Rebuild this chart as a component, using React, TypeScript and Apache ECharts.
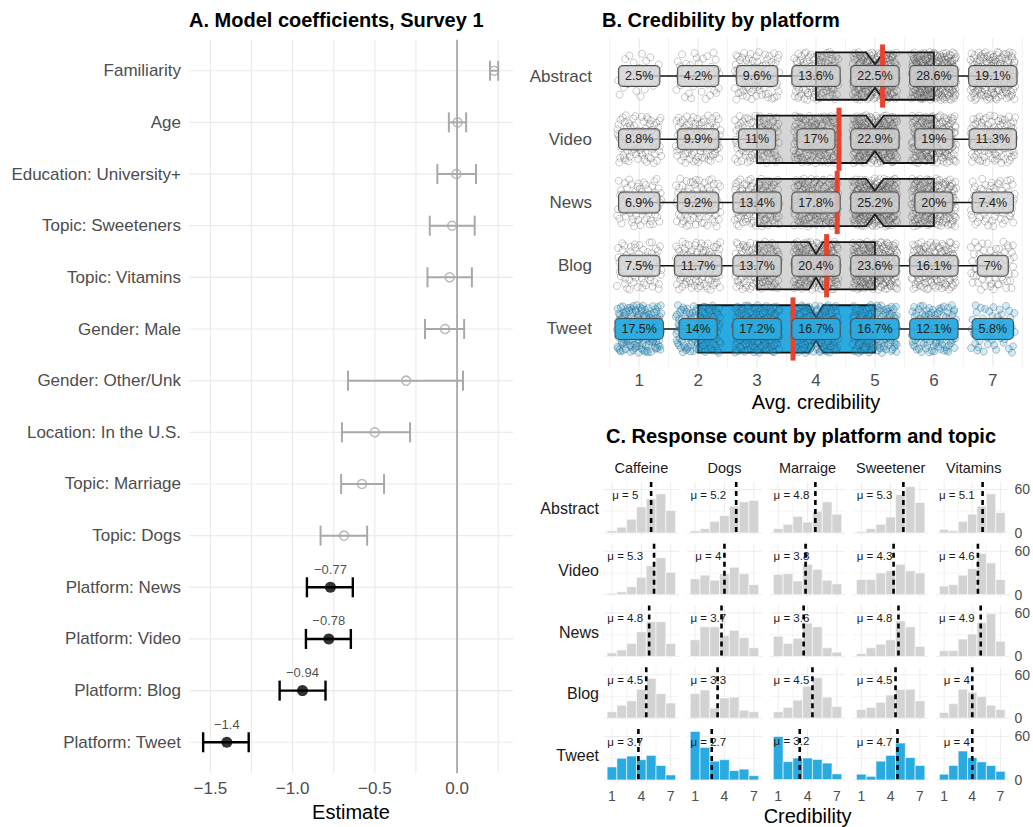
import React, { useEffect, useRef } from "react";
import * as echarts from "echarts";

const FONT = "'Liberation Sans', Arial, Helvetica, sans-serif";

/* ---------------- Panel A : model coefficients ---------------- */
const coefTerms = [
  "Familiarity",
  "Age",
  "Education: University+",
  "Topic: Sweeteners",
  "Topic: Vitamins",
  "Gender: Male",
  "Gender: Other/Unk",
  "Location: In the U.S.",
  "Topic: Marriage",
  "Topic: Dogs",
  "Platform: News",
  "Platform: Video",
  "Platform: Blog",
  "Platform: Tweet",
];
const coefEst = [0.225, 0.003, -0.004, -0.03, -0.045, -0.073, -0.31, -0.5, -0.578, -0.687, -0.77, -0.78, -0.94, -1.4];
const coefLo = [0.2, -0.05, -0.12, -0.166, -0.18, -0.195, -0.663, -0.7, -0.705, -0.83, -0.913, -0.919, -1.079, -1.544];
const coefHi = [0.25, 0.055, 0.115, 0.107, 0.09, 0.043, 0.036, -0.286, -0.444, -0.547, -0.634, -0.646, -0.8, -1.267];
const coefHighlight = [0, 0, 0, 0, 0, 0, 0, 0, 0, 0, 1, 1, 1, 1];
const coefTickLabels = [-1.5, -1, -0.5, 0];
const coefGridLines = [-1.5, -1.25, -1, -0.75, -0.5, -0.25, 0, 0.25];

/* ---------------- Panel B : credibility by platform ---------------- */
const platforms = ["Abstract", "Video", "News", "Blog", "Tweet"];
const credLevels = [1, 2, 3, 4, 5, 6, 7];
const pctAbstract = [2.5, 4.2, 9.6, 13.6, 22.5, 28.6, 19.1];
const pctVideo = [8.8, 9.9, 11, 17, 22.9, 19, 11.3];
const pctNews = [6.9, 9.2, 13.4, 17.8, 25.2, 20, 7.4];
const pctBlog = [7.5, 11.7, 13.7, 20.4, 23.6, 16.1, 7];
const pctTweet = [17.5, 14, 17.2, 16.7, 16.7, 12.1, 5.8];
const boxQ1 = [4, 3, 3, 3, 2];
const boxMedian = [5, 5, 5, 4, 4];
const boxQ3 = [6, 6, 6, 5, 5];
const notchHalfWidth = [0.15, 0.15, 0.15, 0.12, 0.12];
const whiskerLo = [1, 1, 1, 1, 1];
const whiskerHi = [7, 7, 7, 7, 7];
const platformMean = [5.13, 4.39, 4.36, 4.18, 3.61];
const credTickLabels = [1, 2, 3, 4, 5, 6, 7];
const credGridLines = [0.5, 1, 1.5, 2, 2.5, 3, 3.5, 4, 4.5, 5, 5.5, 6, 6.5, 7, 7.5];

/* ---------------- Panel C : response counts ---------------- */
const topics = ["Caffeine", "Dogs", "Marraige", "Sweetener", "Vitamins"];
const countsAbstract = [
  [3, 8, 19, 36, 47, 54, 31],
  [3, 6, 16, 24, 37, 43, 45],
  [6, 12, 23, 15, 30, 43, 26],
  [2, 6, 12, 22, 53, 64, 42],
  [5, 3, 16, 26, 37, 54, 28],
];
const countsVideo = [
  [2, 4, 11, 24, 40, 51, 31],
  [22, 27, 20, 29, 38, 29, 14],
  [28, 29, 19, 42, 35, 20, 15],
  [21, 21, 30, 33, 42, 33, 30],
  [12, 14, 27, 36, 57, 44, 21],
];
const countsNews = [
  [5, 9, 18, 34, 48, 48, 18],
  [23, 41, 41, 29, 36, 26, 12],
  [28, 18, 25, 46, 41, 12, 6],
  [4, 12, 17, 23, 49, 41, 14],
  [8, 8, 24, 31, 47, 59, 21],
];
const countsBlog = [
  [9, 18, 24, 40, 55, 34, 21],
  [34, 39, 14, 28, 29, 11, 9],
  [9, 15, 25, 44, 56, 29, 16],
  [12, 15, 22, 32, 40, 40, 24],
  [8, 20, 40, 36, 30, 18, 12],
];
const countsTweet = [
  [18, 30, 33, 28, 34, 20, 7],
  [67, 45, 26, 28, 13, 15, 6],
  [60, 25, 30, 30, 28, 23, 8],
  [8, 5, 26, 34, 51, 31, 20],
  [8, 20, 40, 31, 25, 20, 12],
];
const meanAbstract = [5, 5.2, 4.8, 5.3, 5.1];
const meanVideo = [5.3, 4, 3.8, 4.3, 4.6];
const meanNews = [4.8, 3.7, 3.6, 4.8, 4.9];
const meanBlog = [4.5, 3.3, 4.5, 4.5, 4];
const meanTweet = [3.7, 2.7, 3.2, 4.7, 4];
const countTickLabels = [0, 60];
const credTicksC = [1, 4, 7];
const countGridLines = [0, 30, 60];
const credGridLinesC = [1, 2.5, 4, 5.5, 7];

/* ---------------- helpers ---------------- */
const pctByPlatform = [pctAbstract, pctVideo, pctNews, pctBlog, pctTweet];
const countsByPlatform = [countsAbstract, countsVideo, countsNews, countsBlog, countsTweet];
const meansByPlatform = [meanAbstract, meanVideo, meanNews, meanBlog, meanTweet];

const BLUE = "#29abe2";
const GREY_FILL = "#d6d6d6";
const BAR_GREY = "#d3d3d3";
const GRID_COL = "#ebebeb";
const RED = "#e8432e";

// deterministic low-discrepancy jitter (like geom_jitter, without randomness)
function halton(i: number, b: number) {
  let f = 1,
    r = 0;
  while (i > 0) {
    f /= b;
    r += f * (i % b);
    i = Math.floor(i / b);
  }
  return r;
}

function txtStyle(text: string, size: number, color: string, align: string, valign: string, extra: any = {}) {
  return {
    text,
    fill: color,
    font: `${size}px ${FONT}`,
    align,
    textAlign: align,
    verticalAlign: valign,
    textVerticalAlign: valign,
    ...extra,
  };
}

function gridLineSeries(xi: number, yi: number, entries: any[], extFrac: number, nBands: number, color: string, z: number) {
  return {
    type: "custom",
    xAxisIndex: xi,
    yAxisIndex: yi,
    z,
    silent: true,
    clip: false,
    encode: { x: 0, y: 1 },
    data: entries,
    renderItem: (params: any, api: any) => {
      const cs = params.coordSys;
      const ext = nBands > 0 ? (extFrac * cs.height) / nBands : extFrac;
      const o = api.value(2);
      const w = api.value(3);
      const p = api.coord([api.value(0), api.value(1)]);
      if (o === 0) {
        return {
          type: "line",
          shape: { x1: p[0], y1: cs.y - ext, x2: p[0], y2: cs.y + cs.height + ext },
          style: { stroke: color, lineWidth: w },
        };
      }
      return {
        type: "line",
        shape: { x1: cs.x, y1: p[1], x2: cs.x + cs.width, y2: p[1] },
        style: { stroke: color, lineWidth: w },
      };
    },
  };
}

function buildOption() {
  const grids: any[] = [];
  const xAxes: any[] = [];
  const yAxes: any[] = [];
  const series: any[] = [];

  /* ===== Panel A ===== */
  grids.push({ left: 189, top: 44.9, width: 324, height: 731.2 });
  xAxes.push({
    gridIndex: 0,
    type: "value",
    min: -1.63,
    max: 0.34,
    axisLine: { show: false },
    axisTick: { show: false },
    splitLine: { show: false },
    axisLabel: {
      customValues: coefTickLabels,
      formatter: (v: number) => (v === 0 ? "0.0" : "\u2212" + Math.abs(v).toFixed(1)),
      fontSize: 17,
      color: "#4d4d4d",
      margin: 12,
      fontFamily: FONT,
    },
    name: "Estimate",
    nameLocation: "middle",
    nameGap: 32,
    nameTextStyle: { fontSize: 20, color: "#000", fontFamily: FONT },
  });
  yAxes.push({
    gridIndex: 0,
    type: "category",
    data: coefTerms,
    inverse: true,
    axisLine: { show: false },
    axisTick: { show: false },
    splitLine: { show: false },
    axisLabel: { interval: 0, fontSize: 17, color: "#4d4d4d", margin: 8, fontFamily: FONT },
  });
  series.push(
    gridLineSeries(
      0,
      0,
      [
        ...coefGridLines.map((v) => [v, coefTerms[0], 0, 1.2]),
        ...coefTerms.map((t) => [coefGridLines[0], t, 1, 1.2]),
      ],
      0.1,
      coefTerms.length,
      GRID_COL,
      0
    )
  );
  series.push(gridLineSeries(0, 0, [[0, coefTerms[0], 0, 1.8]], 0.1, coefTerms.length, "#a9a9a9", 1));
  series.push({
    type: "custom",
    xAxisIndex: 0,
    yAxisIndex: 0,
    z: 3,
    clip: false,
    silent: true,
    encode: { x: [0, 1], y: 2 },
    data: coefTerms.map((t, i) => [coefLo[i], coefHi[i], t, coefHighlight[i]]),
    renderItem: (params: any, api: any) => {
      const yv = api.value(2);
      const a = api.coord([api.value(0), yv]);
      const b = api.coord([api.value(1), yv]);
      const hl = api.value(3) === 1;
      const st = () => ({ stroke: hl ? "#000" : "#a9a9a9", lineWidth: hl ? 2.4 : 2 });
      const cap = 10;
      return {
        type: "group",
        children: [
          { type: "line", shape: { x1: a[0], y1: a[1], x2: b[0], y2: b[1] }, style: st() },
          { type: "line", shape: { x1: a[0], y1: a[1] - cap, x2: a[0], y2: a[1] + cap }, style: st() },
          { type: "line", shape: { x1: b[0], y1: b[1] - cap, x2: b[0], y2: b[1] + cap }, style: st() },
        ],
      };
    },
  });
  const greyIdx = coefTerms.map((_, i) => i).filter((i) => !coefHighlight[i]);
  const blackIdx = coefTerms.map((_, i) => i).filter((i) => coefHighlight[i]);
  series.push({
    type: "scatter",
    xAxisIndex: 0,
    yAxisIndex: 0,
    z: 4,
    silent: true,
    symbol: "circle",
    symbolSize: 9,
    itemStyle: { color: "rgba(255,255,255,0)", borderColor: "#a9a9a9", borderWidth: 1.5 },
    data: greyIdx.map((i) => [coefEst[i], coefTerms[i]]),
  });
  series.push({
    type: "scatter",
    xAxisIndex: 0,
    yAxisIndex: 0,
    z: 4,
    silent: true,
    symbol: "circle",
    symbolSize: 11,
    itemStyle: { color: "#000" },
    label: {
      show: true,
      position: "top",
      distance: 6,
      fontSize: 13,
      color: "#1a1a1a",
      fontFamily: FONT,
      formatter: (p: any) => "\u2212" + String(Number(Math.abs(p.value[0]).toFixed(2))),
    },
    data: blackIdx.map((i) => [coefEst[i], coefTerms[i]]),
  });

  /* ===== Panel B ===== */
  grids.push({ left: 605, top: 44.4, width: 422, height: 316.2 });
  xAxes.push({
    gridIndex: 1,
    type: "value",
    min: 0.42,
    max: 7.58,
    axisLine: { show: false },
    axisTick: { show: false },
    splitLine: { show: false },
    axisLabel: {
      customValues: credTickLabels,
      formatter: (v: number) => String(v),
      fontSize: 17,
      color: "#4d4d4d",
      margin: 11,
      fontFamily: FONT,
    },
    name: "Avg. credibility",
    nameLocation: "middle",
    nameGap: 31,
    nameTextStyle: { fontSize: 20, color: "#000", fontFamily: FONT },
  });
  yAxes.push({
    gridIndex: 1,
    type: "category",
    data: platforms,
    inverse: true,
    axisLine: { show: false },
    axisTick: { show: false },
    splitLine: { show: false },
    axisLabel: { interval: 0, fontSize: 17, color: "#4d4d4d", margin: 13, fontFamily: FONT },
  });
  const nP = platforms.length;
  series.push(
    gridLineSeries(
      1,
      1,
      credGridLines.map((v) => [v, platforms[0], 0, Number.isInteger(v) ? 1.2 : 0.7]),
      0.1,
      nP,
      GRID_COL,
      0
    )
  );
  // whiskers
  series.push({
    type: "custom",
    xAxisIndex: 1,
    yAxisIndex: 1,
    z: 2,
    silent: true,
    clip: false,
    encode: { x: [0, 1], y: 2 },
    data: platforms.map((p, i) => [whiskerLo[i], whiskerHi[i], p]),
    renderItem: (params: any, api: any) => {
      const a = api.coord([api.value(0), api.value(2)]);
      const b = api.coord([api.value(1), api.value(2)]);
      return { type: "line", shape: { x1: a[0], y1: a[1], x2: b[0], y2: b[1] }, style: { stroke: "#111", lineWidth: 1.6 } };
    },
  });
  // notched boxes
  series.push({
    type: "custom",
    xAxisIndex: 1,
    yAxisIndex: 1,
    z: 3,
    silent: true,
    clip: false,
    encode: { x: [0, 1, 2], y: 3 },
    data: platforms.map((p, i) => [boxQ1[i], boxMedian[i], boxQ3[i], p, notchHalfWidth[i], i === 4 ? 1 : 0]),
    renderItem: (params: any, api: any) => {
      const cs = params.coordSys;
      const band = cs.height / nP;
      const yi = api.value(3);
      const md = api.value(1);
      const n = api.value(4);
      const pQ1 = api.coord([api.value(0), yi]);
      const xL = api.coord([md - n, yi])[0];
      const xM = api.coord([md, yi])[0];
      const xR = api.coord([md + n, yi])[0];
      const xQ3 = api.coord([api.value(2), yi])[0];
      const cy = pQ1[1];
      const h = band * 0.75;
      const top = cy - h / 2;
      const bot = cy + h / 2;
      const ins = h * 0.25;
      const pts = [
        [pQ1[0], top],
        [xL, top],
        [xM, top + ins],
        [xR, top],
        [xQ3, top],
        [xQ3, bot],
        [xR, bot],
        [xM, bot - ins],
        [xL, bot],
        [pQ1[0], bot],
      ];
      return {
        type: "polygon",
        shape: { points: pts },
        style: { fill: api.value(5) === 1 ? BLUE : GREY_FILL, stroke: "#111", lineWidth: 1.8, lineJoin: "miter" },
      };
    },
  });
  // jittered responses
  const jitterData: any[] = [];
  let hk = 1;
  platforms.forEach((p, pi) => {
    let total = 0;
    countsByPlatform[pi].forEach((row) => row.forEach((c) => (total += c)));
    pctByPlatform[pi].forEach((pc, li) => {
      const n = Math.round((pc / 100) * total);
      for (let m = 0; m < n; m++) {
        jitterData.push([credLevels[li], p, halton(hk, 2) - 0.5, halton(hk, 3) - 0.5, pi === 4 ? 1 : 0]);
        hk++;
      }
    });
  });
  series.push({
    type: "custom",
    xAxisIndex: 1,
    yAxisIndex: 1,
    z: 4,
    silent: true,
    clip: false,
    encode: { x: 0, y: 1 },
    data: jitterData,
    renderItem: (params: any, api: any) => {
      const cs = params.coordSys;
      const band = cs.height / nP;
      const c = api.coord([api.value(0) + api.value(2) * 0.76, api.value(1)]);
      const tw = api.value(4) === 1;
      return {
        type: "circle",
        shape: { cx: c[0], cy: c[1] + api.value(3) * 0.76 * band, r: 3.5 },
        style: {
          fill: tw ? "rgba(41,171,226,0.22)" : "rgba(0,0,0,0)",
          stroke: tw ? "rgba(40,60,80,0.38)" : "rgba(60,60,60,0.35)",
          lineWidth: 0.8,
        },
      };
    },
  });
  // mean markers
  series.push({
    type: "custom",
    xAxisIndex: 1,
    yAxisIndex: 1,
    z: 5,
    silent: true,
    clip: false,
    encode: { x: 0, y: 1 },
    data: platforms.map((p, i) => [platformMean[i], p]),
    renderItem: (params: any, api: any) => {
      const cs = params.coordSys;
      const band = cs.height / nP;
      const c = api.coord([api.value(0), api.value(1)]);
      return {
        type: "line",
        shape: { x1: c[0], y1: c[1] - band / 2, x2: c[0], y2: c[1] + band / 2 },
        style: { stroke: RED, lineWidth: 5 },
      };
    },
  });
  // percentage labels
  const labelData: any[] = [];
  platforms.forEach((p, pi) => {
    pctByPlatform[pi].forEach((pc, li) => labelData.push([credLevels[li], p, pc, pi === 4 ? 1 : 0]));
  });
  series.push({
    type: "custom",
    xAxisIndex: 1,
    yAxisIndex: 1,
    z: 6,
    silent: true,
    clip: false,
    encode: { x: 0, y: 1 },
    data: labelData,
    renderItem: (params: any, api: any) => {
      const c = api.coord([api.value(0), api.value(1)]);
      const tw = api.value(3) === 1;
      return {
        type: "text",
        x: c[0],
        y: c[1],
        style: txtStyle(String(api.value(2)) + "%", 12.5, "#222", "center", "middle", {
          backgroundColor: tw ? "rgba(41,171,226,0.92)" : "rgba(211,211,211,0.8)",
          borderColor: "#4d4d4d",
          borderWidth: 1,
          borderRadius: 4,
          padding: [4, 6, 3, 6],
        }),
      };
    },
  });

  /* ===== Panel C ===== */
  const MU_X = 2.35;
  const MU_Y = 53;
  platforms.forEach((p, i) => {
    topics.forEach((t, j) => {
      const g = 2 + i * 5 + j;
      grids.push({ left: 603.7 + 83.1 * j, top: 482 + 61.75 * i, width: 75.3, height: 53.4 });
      xAxes.push({
        gridIndex: g,
        type: "value",
        min: 0.15,
        max: 7.85,
        axisLine: { show: false },
        axisTick: { show: false },
        splitLine: { show: false },
        axisLabel: {
          show: i === 4,
          customValues: credTicksC,
          formatter: (v: number) => String(v),
          fontSize: 14,
          color: "#4d4d4d",
          margin: 7,
          fontFamily: FONT,
        },
        name: i === 4 && j === 2 ? "Credibility" : "",
        nameLocation: "middle",
        nameGap: 24,
        nameTextStyle: { fontSize: 20, color: "#000", fontFamily: FONT },
      });
      yAxes.push({
        gridIndex: g,
        type: "value",
        min: -3.35,
        max: 70.35,
        position: "right",
        axisLine: { show: false },
        axisTick: { show: false },
        splitLine: { show: false },
        axisLabel: {
          show: j === 4,
          customValues: countTickLabels,
          formatter: (v: number) => String(v),
          fontSize: 14,
          color: "#4d4d4d",
          margin: 6,
          fontFamily: FONT,
        },
      });
      series.push(
        gridLineSeries(
          g,
          g,
          [
            ...credGridLinesC.map((v) => [v, 0, 0, Number.isInteger(v) ? 0.9 : 0.5]),
            ...countGridLines.map((v) => [1, v, 1, v === 30 ? 0.5 : 0.9]),
          ],
          0,
          0,
          GRID_COL,
          0
        )
      );
      const barColor = i === 4 ? BLUE : BAR_GREY;
      series.push({
        type: "custom",
        xAxisIndex: g,
        yAxisIndex: g,
        z: 2,
        silent: true,
        clip: false,
        encode: { x: 0, y: 1 },
        data: countsByPlatform[i][j].map((c, k) => [credLevels[k], c]),
        renderItem: (params: any, api: any) => {
          const x = api.value(0);
          const c = api.value(1);
          const p1 = api.coord([x - 0.5, c]);
          const p2 = api.coord([x + 0.5, 0]);
          return {
            type: "rect",
            shape: { x: p1[0], y: p1[1], width: p2[0] - p1[0], height: p2[1] - p1[1] },
            style: { fill: barColor, stroke: "#ffffff", lineWidth: 0.6 },
          };
        },
      });
      series.push({
        type: "custom",
        xAxisIndex: g,
        yAxisIndex: g,
        z: 3,
        silent: true,
        clip: false,
        encode: { x: 0, y: 1 },
        data: [[meansByPlatform[i][j], 0]],
        renderItem: (params: any, api: any) => {
          const cs = params.coordSys;
          const m = api.value(0);
          const x = api.coord([m, 0])[0];
          const lp = api.coord([MU_X, MU_Y]);
          return {
            type: "group",
            children: [
              {
                type: "text",
                x: lp[0],
                y: lp[1],
                style: txtStyle("\u03bc = " + String(m), 11.5, "#1a1a1a", "center", "middle"),
              },
              {
                type: "line",
                shape: { x1: x, y1: cs.y, x2: x, y2: cs.y + cs.height },
                style: { stroke: "#000", lineWidth: 2.6, lineDash: [5, 4] },
              },
            ],
          };
        },
      });
    });
  });

  const graphic: any[] = [
    ...platforms.map((p, i) => ({
      type: "text",
      x: 599,
      y: 482 + 61.75 * i + 26.7,
      silent: true,
      style: txtStyle(p, 16, "#1a1a1a", "right", "middle"),
    })),
    ...topics.map((t, j) => ({
      type: "text",
      x: 603.7 + 83.1 * j + 37.65,
      y: 468,
      silent: true,
      style: txtStyle(t, 14.5, "#1a1a1a", "center", "middle"),
    })),
  ];

  return {
    animation: false,
    backgroundColor: "#ffffff",
    textStyle: { fontFamily: FONT },
    title: [
      { text: "A. Model coefficients, Survey 1", left: 189, top: 10, padding: 0, textStyle: { fontSize: 20, fontWeight: "bold", color: "#000", fontFamily: FONT } },
      { text: "B. Credibility by platform", left: 602, top: 10, padding: 0, textStyle: { fontSize: 20, fontWeight: "bold", color: "#000", fontFamily: FONT } },
      { text: "C. Response count by platform and topic", left: 606, top: 426, padding: 0, textStyle: { fontSize: 20, fontWeight: "bold", color: "#000", fontFamily: FONT } },
    ],
    grid: grids,
    xAxis: xAxes,
    yAxis: yAxes,
    series,
    graphic,
  };
}

export default function App() {
  const ref = useRef<HTMLDivElement>(null);
  useEffect(() => {
    if (!ref.current) return;
    const chart = echarts.init(ref.current, null, { renderer: "svg" });
    chart.setOption(buildOption() as any);
    return () => chart.dispose();
  }, []);
  return (
    <div
      ref={ref}
      style={{ position: "fixed", left: 0, top: 0, width: 1033, height: 827, background: "#fff" }}
    />
  );
}
